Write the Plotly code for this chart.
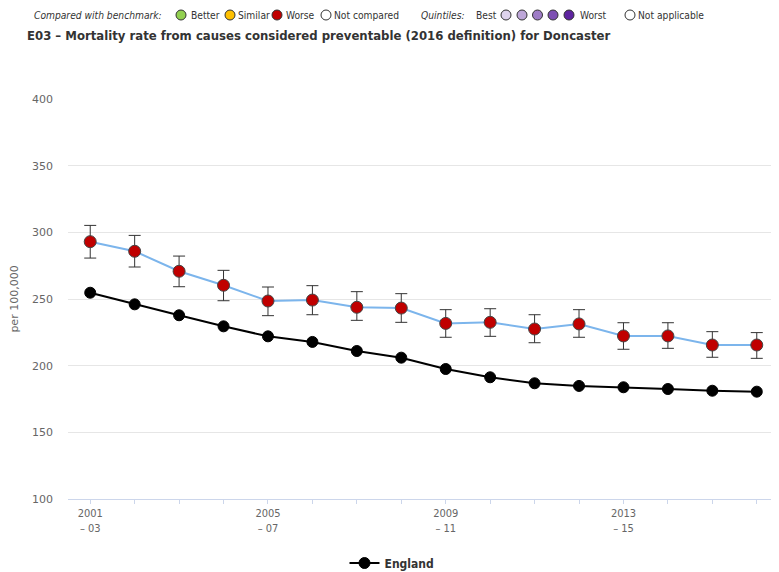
import plotly.graph_objects as go

periods = ["2001 - 03", "2002 - 04", "2003 - 05", "2004 - 06", "2005 - 07", "2006 - 08",
           "2007 - 09", "2008 - 10", "2009 - 11", "2010 - 12", "2011 - 13", "2012 - 14",
           "2013 - 15", "2014 - 16", "2015 - 17", "2016 - 18"]
tick_labels = ["2001<br>– 03", "", "", "", "2005<br>– 07", "", "", "", "2009<br>– 11", "", "", "",
               "2013<br>– 15", "", "", ""]
doncaster = [293.0, 285.8, 270.8, 260.3, 248.5, 249.2, 243.8, 243.2, 231.7, 232.5, 227.5, 231.3,
             222.3, 222.3, 215.5, 215.5]
doncaster_upper = [305.2, 297.7, 282.2, 271.5, 259.0, 260.0, 255.5, 254.0, 242.0, 242.7, 238.2, 242.0,
                   232.2, 232.2, 225.5, 224.8]
doncaster_lower = [280.7, 274.0, 259.2, 248.7, 237.5, 238.2, 234.0, 232.5, 221.3, 222.0, 217.2, 221.3,
                   212.3, 213.0, 206.3, 205.5]
england = [254.7, 246.0, 237.8, 229.5, 222.0, 217.8, 211.0, 206.0, 197.5, 191.3, 186.8, 184.8,
           183.8, 182.5, 181.2, 180.5]
y_ticks = [100, 150, 200, 250, 300, 350, 400]

COND = "DejaVu Sans Condensed, Liberation Sans Narrow, sans-serif"
DJ = "DejaVu Sans, Verdana, sans-serif"
OFF = 8  # page body margin
W, H = 779 - OFF, 572 - OFF
L, T, R = 68 - OFF, 99 - OFF, 0
PW, PH = W - L - R, 400
B = H - T - PH


def px(x):
    return (x - OFF - L) / PW


def py(y):
    return (T + PH - (y - OFF)) / PH


fig = go.Figure()

fig.add_trace(go.Scatter(
    x=periods, y=doncaster, mode="lines+markers", name="Doncaster", showlegend=False,
    line=dict(color="#7CB5EC", width=2),
    marker=dict(color="#C00000", size=12, line=dict(color="#444", width=1)),
    error_y=dict(type="data", symmetric=False,
                 array=[u - v for u, v in zip(doncaster_upper, doncaster)],
                 arrayminus=[v - l for v, l in zip(doncaster, doncaster_lower)],
                 color="#333", thickness=1, width=6),
))

fig.add_trace(go.Scatter(
    x=periods, y=england, mode="lines+markers", name="England",
    line=dict(color="#000000", width=2),
    marker=dict(color="#000000", size=11, line=dict(color="#000", width=1)),
))

annotations = []
shapes = []

# top legend row
row_y = 15
texts = [
    (32, "<i>Compared with benchmark:</i>"),
    (189, "Better"), (236, "Similar"), (284, "Worse"), (332, "Not compared"),
    (419, "<i>Quintiles:</i>"), (474, "Best"), (578, "Worst"), (636, "Not applicable"),
]
for x, t in texts:
    annotations.append(dict(x=px(x), y=py(row_y), xref="paper", yref="paper", text=t,
                            showarrow=False, xanchor="left", yanchor="middle",
                            font=dict(family=COND, size=10.2, color="#333")))
circles = [(181, "#92D050"), (230, "#FFC000"), (277, "#C00000"), (326, "#FFFFFF"),
           (506, "#DED3EC"), (522, "#BEA7D9"), (537.5, "#9E7CC6"), (553, "#7E50B3"),
           (569, "#5E24A0"), (630, "#FFFFFF")]
for x, c in circles:
    shapes.append(dict(type="circle", xref="paper", yref="paper", xsizemode="pixel",
                       ysizemode="pixel", xanchor=px(x), yanchor=py(row_y),
                       x0=-5, x1=5, y0=-5, y1=5, fillcolor=c,
                       line=dict(color="#333", width=1)))

annotations.append(dict(x=px(25), y=py(35), xref="paper", yref="paper",
                        text="<b>E03 – Mortality rate from causes considered preventable (2016 definition) for Doncaster</b>",
                        showarrow=False, xanchor="left", yanchor="middle",
                        font=dict(family=COND, size=13, color="#333")))

fig.update_layout(
    width=W, height=H,
    margin=dict(l=L, r=R, t=T, b=B, autoexpand=False),
    paper_bgcolor="white", plot_bgcolor="white",
    annotations=annotations, shapes=shapes,
    showlegend=True,
    legend=dict(orientation="h", x=px(392), xanchor="center", y=py(563), yanchor="middle",
                font=dict(family=COND, size=12, color="#333", weight="bold"), itemwidth=30,
                bgcolor="rgba(0,0,0,0)"),
    xaxis=dict(type="category", categoryorder="array", categoryarray=periods,
               range=[-0.5, 15.5], tickmode="array", tickvals=periods, ticktext=tick_labels,
               showgrid=False, showline=True, linecolor="#ccd6eb", linewidth=1,
               ticks="outside", ticklen=4, tickcolor="#ccd6eb",
               tickfont=dict(family=COND, size=11, color="#666"), zeroline=False),
    yaxis=dict(range=[100, 400], tickmode="array", tickvals=y_ticks,
               showgrid=True, gridcolor="#e6e6e6", gridwidth=1, zeroline=False,
               showline=False, ticks="", ticklabelstandoff=14,
               tickfont=dict(family=DJ, size=11, color="#666"),
               title=dict(text="per 100,000", standoff=12,
                          font=dict(family=DJ, size=11, color="#666"))),
)

fig.write_html("out.html")
